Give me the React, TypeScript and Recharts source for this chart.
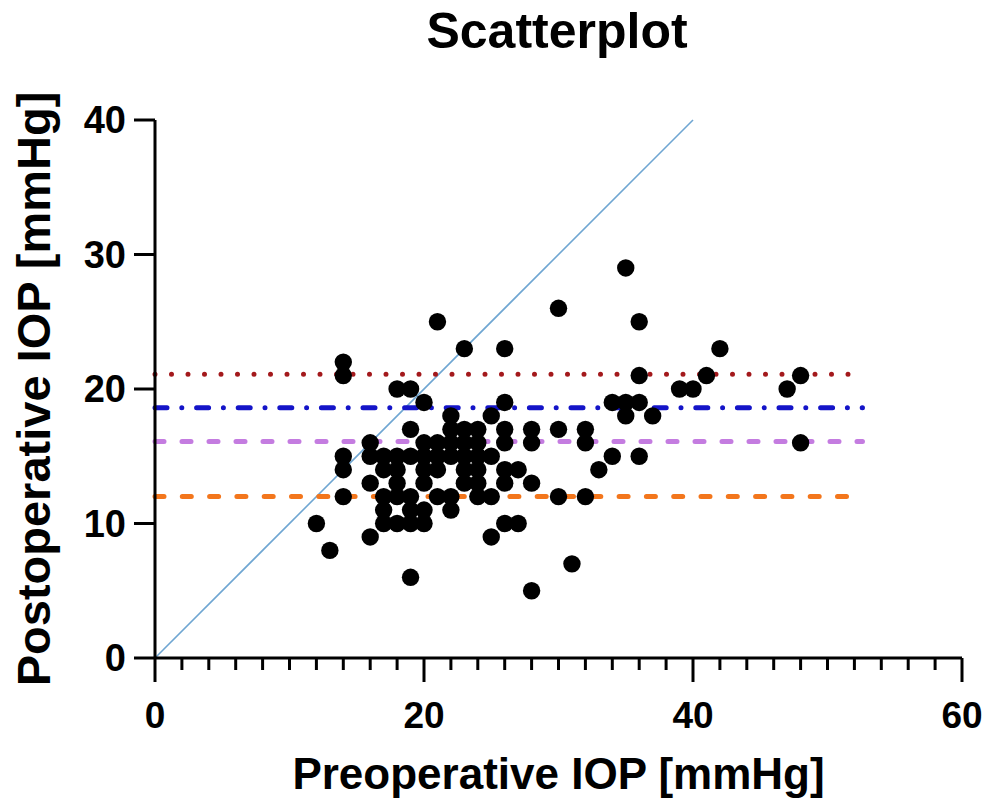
import React from 'react';
import { ScatterChart, Scatter, XAxis, YAxis, ReferenceLine, Label } from 'recharts';

// Preoperative IOP (x) and postoperative IOP (y) of each eye
const preIOP = [
  12, 13, 14, 14, 14, 14, 14,
  16, 16, 16, 16,
  17, 17, 17, 17, 17,
  18, 18, 18, 18, 18, 18,
  19, 19, 19, 19, 19, 19, 19,
  20, 20, 20, 20, 20, 20, 20,
  21, 21, 21, 21, 21,
  22, 22, 22, 22, 22, 22,
  23, 23, 23, 23, 23, 23,
  24, 24, 24, 24, 24, 24,
  25, 25, 25, 25,
  26, 26, 26, 26, 26, 26, 26,
  27, 27,
  28, 28, 28, 28,
  30, 30, 30,
  31,
  32, 32, 32,
  33,
  34, 34,
  35, 35, 35,
  36, 36, 36, 36,
  37,
  39, 40, 41, 42,
  47, 48, 48,
];
const postIOP = [
  10, 8, 22, 21, 15, 14, 12,
  16, 15, 13, 9,
  15, 14, 12, 11, 10,
  20, 15, 14, 13, 12, 10,
  20, 17, 15, 12, 11, 10, 6,
  19, 16, 15, 14, 13, 11, 10,
  25, 16, 15, 14, 12,
  18, 17, 16, 15, 12, 11,
  23, 17, 16, 15, 14, 13,
  17, 16, 15, 14, 13, 12,
  18, 15, 12, 9,
  23, 19, 17, 16, 14, 13, 10,
  14, 10,
  17, 16, 13, 5,
  26, 17, 12,
  7,
  17, 16, 12,
  14,
  19, 15,
  29, 19, 18,
  25, 21, 19, 15,
  18,
  20, 20, 21, 23,
  20, 21, 16,
];

// Horizontal reference levels (y value) and their extent in x
const levelValues = [21.1, 18.6, 16.1, 12.0];
const levelColors = ['#a3191c', '#1414c8', '#c47ce0', '#f3761c'];
const levelDashes = ['0 16.5', '12 14.8 0 14.8', '9 18', '9 18.3'];
const levelStartX = 0;
const levelEndX = 52.6;

// Identity line (y = x)
const identityFrom = 0;
const identityTo = 40;

const xTicks = [0, 2, 4, 6, 8, 10, 12, 14, 16, 18, 20, 22, 24, 26, 28, 30, 32, 34, 36, 38, 40, 42, 44, 46, 48, 50, 52, 54, 56, 58, 60];
const yTicks = [0, 10, 20, 30, 40];

const data = preIOP.map((x, i) => ({ pre: x, post: postIOP[i] }));

const FONT = '"Liberation Sans", Arial, Helvetica, sans-serif';

const XTick = (props: any) => {
  const { x, y, payload } = props;
  const major = payload.value % 20 === 0;
  return (
    <g>
      <line x1={x} x2={x} y1={y} y2={y + (major ? 24 : 12)} stroke="#000" strokeWidth={3} />
      {major && (
        <text x={x} y={y + 70} textAnchor="middle" fontFamily={FONT} fontWeight="bold" fontSize={37} fill="#000">
          {payload.value}
        </text>
      )}
    </g>
  );
};

const YTick = (props: any) => {
  const { x, y, payload } = props;
  return (
    <g>
      <line x1={x - 21} x2={x} y1={y} y2={y} stroke="#000" strokeWidth={3} />
      <text x={x - 29} y={y} dy="0.355em" textAnchor="end" fontFamily={FONT} fontWeight="bold" fontSize={38} fill="#000">
        {payload.value}
      </text>
    </g>
  );
};

const Dot = (props: any) => {
  const { cx, cy } = props;
  return <circle cx={cx} cy={cy} r={8.7} fill="#000" />;
};

export default function App() {
  return (
    <div style={{ position: 'relative', width: 985, height: 803 }}>
      <style>{'html,body{margin:0;padding:0;overflow:hidden;}'}</style>
      <div
        style={{
          position: 'absolute',
          left: 557,
          top: 6,
          transform: 'translateX(-50%)',
          fontFamily: FONT,
          fontWeight: 'bold',
          fontSize: 50,
          lineHeight: '50px',
          whiteSpace: 'nowrap',
          color: '#000',
        }}
      >
        Scatterplot
      </div>
      <ScatterChart width={985} height={803} margin={{ top: 120, right: 23, bottom: 0, left: 0 }}>
        <XAxis
          type="number"
          dataKey="pre"
          domain={[0, 60]}
          ticks={xTicks}
          interval={0}
          allowDataOverflow
          height={145}
          tickSize={0}
          tickMargin={0}
          tickLine={false}
          axisLine={{ stroke: '#000', strokeWidth: 3 }}
          tick={<XTick />}
        >
          <Label
            value="Preoperative IOP [mmHg]"
            position="center"
            dy={43}
            style={{ fontFamily: FONT, fontWeight: 'bold', fontSize: 44, fill: '#000' }}
          />
        </XAxis>
        <YAxis
          type="number"
          dataKey="post"
          domain={[0, 40]}
          ticks={yTicks}
          interval={0}
          allowDataOverflow
          width={155}
          tickSize={0}
          tickMargin={0}
          tickLine={false}
          axisLine={{ stroke: '#000', strokeWidth: 3 }}
          tick={<YTick />}
        >
          <Label
            value="Postoperative IOP [mmHg]"
            angle={-90}
            position="center"
            dx={-44}
            style={{ fontFamily: FONT, fontWeight: 'bold', fontSize: 47, fill: '#000', textAnchor: 'middle' }}
          />
        </YAxis>
        <Scatter data={data} fill="#000" shape={<Dot />} isAnimationActive={false} />
        <ReferenceLine
          segment={[{ x: identityFrom, y: identityFrom }, { x: identityTo, y: identityTo }]}
          stroke="#6fa6d2"
          strokeWidth={1.6}
          ifOverflow="visible"
        />
        {levelValues.map((v, i) => (
          <ReferenceLine
            key={i}
            segment={[{ x: levelStartX, y: v }, { x: levelEndX, y: v }]}
            stroke={levelColors[i]}
            strokeWidth={5}
            strokeDasharray={levelDashes[i]}
            strokeLinecap="round"
            ifOverflow="visible"
          />
        ))}
      </ScatterChart>
    </div>
  );
}
